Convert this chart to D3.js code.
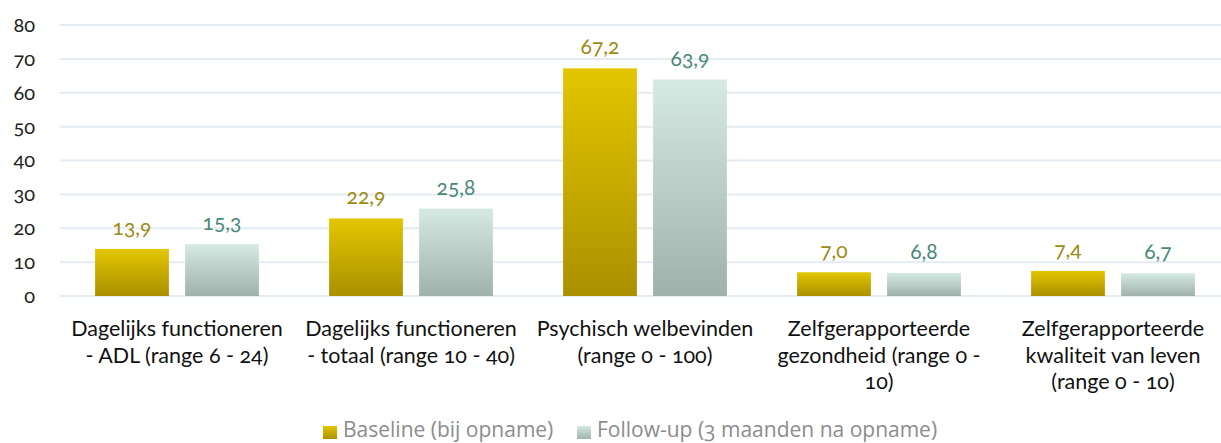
<!DOCTYPE html>
<html>
<head>
<meta charset="utf-8">
<script src="https://cdn.jsdelivr.net/npm/d3@7"></script>
<style>
  body { margin: 0; background: #fff; }
  svg { display: block; font-family: Candara, Lato, "Open Sans", sans-serif; font-variant-numeric: oldstyle-nums; }
</style>
</head>
<body>
<div id="chart"></div>
<script>
// chart data
const categories = [
    ["Dagelijks functioneren", "- ADL (range 6 - 24)"],
    ["Dagelijks functioneren", "- totaal (range 10 - 40)"],
    ["Psychisch welbevinden", "(range 0 - 100)"],
    ["Zelfgerapporteerde", "gezondheid (range 0 -", "10)"],
    ["Zelfgerapporteerde", "kwaliteit van leven", "(range 0 - 10)"]
];
const seriesNames = ["Baseline (bij opname)", "Follow-up (3 maanden na opname)"];
const baseline = [13.9, 22.9, 67.2, 7.0, 7.4];
const followUp = [15.3, 25.8, 63.9, 6.8, 6.7];
const yTicks = [0, 10, 20, 30, 40, 50, 60, 70, 80];

const width = 1221, height = 443;
const margin = { left: 60, top: 25, bottom: 147 };

const svg = d3.select("#chart").append("svg")
    .attr("width", width)
    .attr("height", height);

// gradients for the two series
const defs = svg.append("defs");
const gradients = [
    { id: "gradBase", top: "#e3c600", bottom: "#ab9000", text: "#9c8a12" },
    { id: "gradFollow", top: "#d5eae3", bottom: "#9fb1aa", text: "#4a8878" }
];
gradients.forEach(g => {
    const lg = defs.append("linearGradient")
        .attr("id", g.id)
        .attr("x1", 0).attr("y1", 0).attr("x2", 0).attr("y2", 1);
    lg.append("stop").attr("offset", "0%").attr("stop-color", g.top);
    lg.append("stop").attr("offset", "100%").attr("stop-color", g.bottom);
});

const y = d3.scaleLinear()
    .domain([0, 80])
    .range([height - margin.bottom, margin.top]);

const x0 = d3.scaleBand()
    .domain(d3.range(categories.length))
    .range([margin.left, 1230])
    .paddingInner(0.3)
    .paddingOuter(0.15);

const x1 = d3.scaleBand()
    .domain([0, 1])
    .range([0, x0.bandwidth()])
    .paddingInner(0.18);

// gridlines
svg.append("g")
    .selectAll("line")
    .data(yTicks)
    .join("line")
    .attr("x1", margin.left)
    .attr("x2", width)
    .attr("y1", d => y(d))
    .attr("y2", d => y(d))
    .attr("stroke", "#e4ebf1")
    .attr("stroke-width", 2);

// y axis labels
const yAxis = svg.append("g")
    .attr("transform", `translate(${margin.left},0)`)
    .call(d3.axisLeft(y).tickValues(yTicks).tickSize(0).tickPadding(25));
yAxis.attr("font-family", null).attr("font-size", null);
yAxis.select(".domain").remove();
yAxis.selectAll("text")
    .style("font-size", "20px")
    .attr("fill", "#222");

// bars
const series = [baseline, followUp];
const fmt = v => d3.format(".1f")(v).replace(".", ",");

series.forEach((vals, si) => {
    const g = svg.append("g");
    g.selectAll("rect")
        .data(vals)
        .join("rect")
        .attr("x", (d, i) => x0(i) + x1(si))
        .attr("width", x1.bandwidth())
        .attr("y", d => y(d))
        .attr("height", d => y(0) - y(d))
        .attr("fill", `url(#${gradients[si].id})`);

    g.selectAll("text")
        .data(vals)
        .join("text")
        .attr("x", (d, i) => x0(i) + x1(si) + x1.bandwidth() / 2)
        .attr("y", d => y(d) - 14)
        .attr("text-anchor", "middle")
        .attr("fill", gradients[si].text)
        .style("font-size", "21px")
        .text(d => fmt(d));
});

// category labels
const catG = svg.append("g");
categories.forEach((lines, i) => {
    const t = catG.append("text")
        .attr("x", x0(i) + x0.bandwidth() / 2)
        .attr("y", 336)
        .attr("text-anchor", "middle")
        .attr("fill", "#111")
        .style("font-size", "21.5px");
    lines.forEach((ln, j) => {
        t.append("tspan")
            .attr("x", x0(i) + x0.bandwidth() / 2)
            .attr("dy", j === 0 ? 0 : 26.5)
            .text(ln);
    });
});

// legend
const legend = svg.append("g");
const legendX = [323, 577];
seriesNames.forEach((name, i) => {
    legend.append("rect")
        .attr("x", legendX[i])
        .attr("y", 426)
        .attr("width", 14)
        .attr("height", 13)
        .attr("fill", `url(#${gradients[i].id})`);
    legend.append("text")
        .attr("x", legendX[i] + 20)
        .attr("y", 437)
        .attr("fill", "#8c8c8c")
        .style("font-family", "'Open Sans', Lato, sans-serif")
        .style("font-size", "21px")
        .text(name);
});
</script>
</body>
</html>
